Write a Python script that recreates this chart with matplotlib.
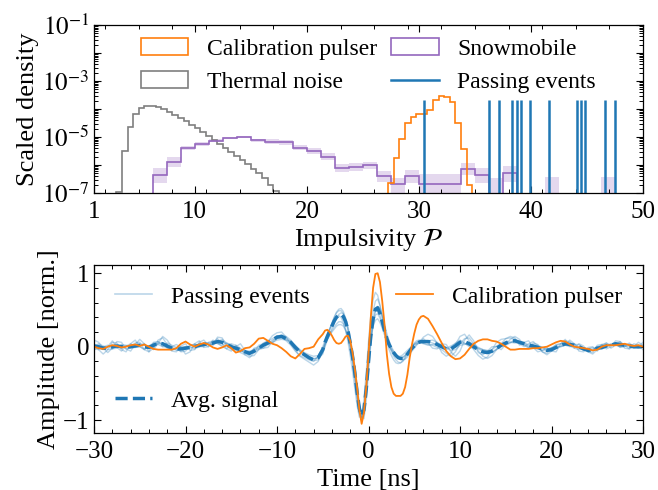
import numpy as np
import matplotlib
matplotlib.use("Agg")
import matplotlib.pyplot as plt
from matplotlib.patches import Patch
from matplotlib.lines import Line2D
from matplotlib.ticker import FixedLocator, MultipleLocator, LogLocator, NullFormatter

plt.rcParams['font.family'] = ['Liberation Serif', 'DejaVu Serif']
plt.rcParams['mathtext.fontset'] = 'stix'

# ---------------- top panel: impulsivity histograms (log10 of scaled density) ----------------
thermal_edges = np.arange(3.0, 17.51, 0.5)
thermal_log = [-6.97, -5.5, -4.63, -4.19, -3.98, -3.9, -3.88, -3.92, -4.0, -4.1,
               -4.21, -4.32, -4.44, -4.56, -4.69, -4.82, -4.96, -5.1, -5.24, -5.38,
               -5.53, -5.68, -5.83, -5.98, -6.14, -6.3, -6.47, -6.7, -6.93]

calib_edges = np.arange(27.25, 34.76, 0.5)
calib_log = [-6.65, -5.76, -5.07, -4.51, -4.27, -4.19, -4.18, -4.04, -3.68, -3.54,
             -3.56, -3.74, -4.51, -5.44, -6.71]

snow_edges = np.arange(6.25, 47.51, 1.25)
# -12 marks an empty bin
snow_log = [-6.36, -5.88, -5.38, -5.25, -5.13, -5.04, -5.01, -5.12, -5.17, -5.18,
            -5.38, -5.49, -5.7, -6.12, -6.06, -6.0, -6.38, -6.68, -6.38, -6.68,
            -6.68, -6.68, -6.14, -6.36, -12, -6.27, -12, -12, -12, -12,
            -12, -12, -12]
snow_lo_log = [-6.65, -6.06, -5.45, -5.31, -5.18, -5.08, -5.05, -5.16, -5.26, -5.27,
               -5.48, -5.6, -5.82, -6.26, -6.2, -6.13, -6.6, -7.0, -6.63, -7.0,
               -7.0, -7.0, -6.36, -6.65, -12, -6.6, -12, -12, -12, -12,
               -12, -12, -12]
snow_hi_log = [-6.1, -5.7, -5.31, -5.19, -5.08, -5.0, -4.97, -5.08, -5.08, -5.09,
               -5.28, -5.38, -5.58, -5.98, -5.93, -5.88, -6.2, -6.45, -6.17, -6.32,
               -6.32, -6.32, -5.93, -6.12, -6.45, -6.05, -12, -12, -6.43, -12,
               -12, -12, -6.43]

passing_impulsivity = [30.48, 36.26, 37.17, 38.28, 38.73, 39.11, 39.91, 41.64,
                       44.14, 44.44, 44.83, 46.61, 47.53]
passing_height = 2.1e-4

# ---------------- bottom panel: waveforms ----------------
t_ns = np.concatenate([np.arange(-30, -5, 0.5), np.arange(-5, 6, 0.25), np.arange(6, 30.01, 0.5)])

avg_signal = (
    [0.01, 0.0, -0.02, -0.02, 0.0, 0.01, 0.0, -0.01, 0.0, 0.01,
     0.02, 0.0, -0.01, 0.02, 0.05, 0.04, 0.01, -0.02, -0.03, -0.03,
     -0.02, -0.01, 0.0, 0.02, 0.03, 0.04, 0.05, 0.07, 0.06, 0.03,
     0.0, -0.02, -0.04, -0.07, -0.09, -0.06, -0.02, 0.02, 0.05, 0.09,
     0.13, 0.14, 0.11, 0.06, -0.01, -0.07, -0.11, -0.15, -0.18, -0.15]
    + [-0.04, 0.06, 0.14, 0.21, 0.28, 0.35, 0.4, 0.43, 0.44, 0.41,
       0.34, 0.22, 0.05, -0.13, -0.35, -0.62, -0.84, -0.94, -0.86, -0.58,
       -0.2, 0.15, 0.38, 0.51, 0.53, 0.45, 0.34, 0.22, 0.11, 0.03,
       -0.03, -0.08, -0.12, -0.15, -0.16, -0.16, -0.14, -0.1, -0.06, -0.02,
       0.01, 0.04, 0.06, 0.07]
    + [0.07, 0.07, 0.06, 0.03, 0.0, -0.03, -0.03, 0.01, 0.06, 0.07,
       0.04, 0.0, -0.04, -0.07, -0.08, -0.06, -0.02, 0.02, 0.05, 0.08,
       0.08, 0.06, 0.04, 0.02, 0.01, -0.01, -0.03, -0.05, -0.04, -0.01,
       0.02, 0.04, 0.03, 0.02, 0.0, -0.03, -0.05, -0.04, -0.02, -0.01,
       0.01, 0.02, 0.04, 0.03, 0.02, 0.01, 0.0, 0.0, 0.0]
)

calib_signal = (
    [0.0, -0.02, -0.03, 0.0, 0.02, 0.01, -0.01, 0.0, 0.02, 0.03,
     0.01, 0.03, 0.0, -0.03, -0.04, -0.04, -0.04, -0.04, -0.02, 0.04,
     0.07, 0.03, 0.0, 0.03, 0.05, 0.03, -0.01, -0.03, -0.01, 0.02,
     -0.02, -0.08, -0.06, -0.02, -0.01, 0.04, 0.11, 0.12, 0.08, 0.04,
     0.02, -0.02, -0.07, -0.13, -0.16, -0.1, -0.03, -0.02, 0.0, 0.1]
    + [0.17, 0.22, 0.23, 0.2, 0.15, 0.09, 0.05, 0.04, 0.05, 0.09,
       0.14, 0.15, 0.08, -0.08, -0.3, -0.55, -0.86, -1.05, -0.9, -0.55,
       -0.1, 0.4, 0.8, 0.99, 1.0, 0.88, 0.62, 0.3, -0.1, -0.37,
       -0.55, -0.64, -0.67, -0.67, -0.67, -0.64, -0.55, -0.38, -0.15, 0.03,
       0.18, 0.3, 0.37, 0.41]
    + [0.42, 0.38, 0.28, 0.17, 0.05, -0.06, -0.13, -0.17, -0.16, -0.11,
       -0.03, 0.04, 0.08, 0.1, 0.1, 0.08, 0.07, 0.04, 0.0, -0.04,
       -0.04, -0.03, -0.03, -0.03, -0.02, -0.02, -0.01, 0.0, 0.03, 0.06,
       0.08, 0.07, 0.03, 0.0, -0.01, -0.02, -0.03, -0.05, -0.04, 0.0,
       0.02, 0.02, 0.02, 0.03, 0.04, 0.02, 0.01, 0.02, 0.0]
)

passing_signals = [
    [0.09, 0.06, -0.02, -0.08, -0.02, 0.07, 0.06, -0.03, -0.06, 0.03,
     0.1, 0.04, -0.07, -0.02, 0.09, 0.12, 0.03, -0.06, -0.07, 0.01,
     0.04, -0.05, -0.04, 0.06, 0.09, 0.02, 0.03, 0.13, 0.12, 0.01,
     -0.04, 0.02, -0.02, -0.11, -0.15, -0.08, 0.02, 0.04, 0.07, 0.15,
     0.19, 0.2, 0.13, 0.04, -0.05, -0.13, -0.17, -0.21, -0.25, -0.2,
     -0.06, 0.05, 0.15, 0.24, 0.32, 0.4, 0.47, 0.51, 0.52, 0.48,
     0.38, 0.24, 0.05, -0.15, -0.38, -0.66, -0.9, -1.0, -0.9, -0.58,
     -0.16, 0.22, 0.48, 0.62, 0.65, 0.56, 0.42, 0.27, 0.13, 0.02,
     -0.06, -0.13, -0.18, -0.21, -0.22, -0.2, -0.16, -0.1, -0.04, 0.01,
     0.05, 0.08, 0.09, 0.09,
     0.13, 0.17, 0.14, 0.05, -0.08, -0.13, -0.09, 0.03, 0.14, 0.17,
     0.08, -0.04, -0.12, -0.17, -0.14, -0.04, 0.06, 0.1, 0.11, 0.12,
     0.1, 0.04, 0.0, 0.04, 0.07, 0.01, -0.07, -0.09, -0.02, 0.03,
     0.04, 0.08, 0.07, -0.02, -0.04, -0.02, -0.07, -0.1, -0.04, 0.03,
     0.05, -0.02, 0.02, 0.07, 0.02, -0.03, 0.0, 0.06, 0.02],
    [-0.03, -0.04, 0.0, 0.02, -0.03, -0.02, 0.03, 0.02, -0.02, -0.01,
     0.0, -0.03, 0.01, 0.05, 0.03, 0.0, -0.01, 0.0, -0.04, -0.06,
     -0.03, 0.02, 0.03, 0.0, 0.0, 0.06, 0.08, 0.04, 0.02, 0.05,
     0.03, -0.04, -0.07, -0.05, -0.06, -0.08, -0.04, 0.04, 0.07, 0.06,
     0.09, 0.1, 0.09, 0.07, 0.02, -0.04, -0.08, -0.11, -0.13, -0.12,
     -0.02, 0.05, 0.1, 0.15, 0.2, 0.24, 0.28, 0.3, 0.3, 0.28,
     0.22, 0.12, -0.02, -0.2, -0.42, -0.68, -0.88, -0.96, -0.85, -0.55,
     -0.2, 0.1, 0.28, 0.36, 0.38, 0.33, 0.25, 0.16, 0.08, 0.01,
     -0.05, -0.09, -0.12, -0.13, -0.13, -0.11, -0.08, -0.05, -0.02, 0.01,
     0.03, 0.04, 0.05, 0.05,
     0.04, 0.02, 0.03, 0.05, 0.03, -0.01, -0.05, -0.04, 0.02, 0.03,
     0.06, 0.04, -0.01, -0.04, -0.05, -0.07, -0.04, 0.0, 0.02, 0.05,
     0.1, 0.07, 0.03, -0.01, 0.0, 0.02, -0.01, -0.06, -0.06, -0.02,
     0.0, 0.02, 0.05, 0.04, -0.01, -0.04, -0.03, -0.01, -0.04, -0.03,
     0.0, 0.04, 0.03, 0.0, 0.04, 0.03, -0.02, -0.01, 0.02],
    [0.03, -0.04, -0.1, -0.04, 0.06, 0.05, -0.04, -0.07, 0.04, 0.09,
     0.0, -0.04, 0.01, -0.04, 0.04, 0.14, 0.09, 0.0, 0.03, -0.01,
     -0.1, -0.07, 0.04, 0.08, -0.01, 0.0, 0.09, 0.05, 0.0, -0.03,
     -0.06, 0.0, 0.04, -0.05, -0.13, -0.12, -0.04, -0.02, -0.01, 0.07,
     0.14, 0.16, 0.14, 0.09, 0.01, -0.06, -0.1, -0.14, -0.19, -0.18,
     -0.08, 0.0, 0.09, 0.17, 0.25, 0.32, 0.39, 0.44, 0.46, 0.45,
     0.39, 0.28, 0.12, -0.06, -0.26, -0.52, -0.78, -0.96, -0.98, -0.74,
     -0.34, 0.04, 0.3, 0.48, 0.55, 0.52, 0.42, 0.3, 0.18, 0.08,
     0.0, -0.06, -0.11, -0.15, -0.17, -0.18, -0.17, -0.14, -0.1, -0.06,
     -0.02, 0.02, 0.05, 0.07,
     0.11, 0.05, -0.02, -0.03, 0.04, 0.03, -0.07, -0.13, -0.06, 0.09,
     0.16, 0.08, -0.06, -0.13, -0.16, -0.12, -0.04, 0.04, 0.11, 0.14,
     0.12, 0.02, 0.06, 0.08, -0.01, -0.07, -0.05, -0.01, -0.06, -0.07,
     0.04, 0.1, 0.01, -0.02, 0.04, 0.01, -0.07, -0.08, 0.02, 0.03,
     -0.03, 0.0, 0.08, 0.07, -0.02, -0.03, 0.04, 0.02, -0.04],
    [0.0, 0.04, 0.01, -0.04, -0.03, 0.02, 0.01, 0.01, 0.04, 0.0,
     0.03, 0.04, -0.02, -0.01, 0.07, 0.03, -0.01, -0.05, -0.02, 0.0,
     0.0, 0.0, -0.03, 0.0, 0.05, 0.05, 0.02, 0.07, 0.1, 0.05,
     0.0, -0.05, -0.05, -0.08, -0.07, -0.03, -0.02, 0.05, 0.08, 0.11,
     0.15, 0.13, 0.08, 0.02, -0.06, -0.12, -0.15, -0.18, -0.2, -0.13,
     0.0, 0.09, 0.17, 0.24, 0.3, 0.36, 0.4, 0.42, 0.4, 0.33,
     0.22, 0.07, -0.12, -0.33, -0.56, -0.8, -0.96, -0.95, -0.72, -0.35,
     0.07, 0.42, 0.64, 0.74, 0.7, 0.57, 0.4, 0.23, 0.08, -0.04,
     -0.12, -0.18, -0.22, -0.23, -0.22, -0.19, -0.14, -0.09, -0.04, 0.0,
     0.04, 0.06, 0.07, 0.07,
     0.05, 0.08, 0.09, 0.06, 0.0, -0.04, -0.01, 0.05, 0.09, 0.05,
     0.0, -0.03, -0.02, -0.04, -0.06, -0.04, 0.01, 0.04, 0.03, 0.06,
     0.07, 0.07, 0.06, 0.02, -0.02, -0.03, -0.01, -0.03, -0.02, 0.02,
     0.04, 0.02, 0.0, 0.03, 0.03, -0.02, -0.07, -0.05, 0.0, 0.02,
     0.02, 0.03, 0.02, 0.0, 0.01, 0.03, 0.01, -0.02, 0.0],
    [-0.05, 0.02, -0.04, 0.0, 0.08, -0.01, -0.06, 0.01, 0.0, 0.05,
     0.06, -0.04, -0.07, 0.06, 0.07, 0.0, 0.05, 0.02, -0.01, -0.07,
     -0.06, 0.01, 0.04, 0.0, 0.03, 0.0, 0.05, 0.11, 0.04, -0.03,
     0.04, 0.02, -0.08, -0.11, -0.11, -0.02, 0.0, -0.02, 0.03, 0.05,
     0.11, 0.12, 0.1, 0.05, 0.0, -0.05, -0.09, -0.13, -0.16, -0.16,
     -0.1, 0.02, 0.13, 0.23, 0.32, 0.4, 0.46, 0.49, 0.49, 0.45,
     0.36, 0.23, 0.06, -0.12, -0.33, -0.58, -0.8, -0.92, -0.86, -0.6,
     -0.24, 0.1, 0.32, 0.43, 0.45, 0.39, 0.3, 0.2, 0.11, 0.04,
     -0.02, -0.07, -0.11, -0.14, -0.15, -0.14, -0.12, -0.09, -0.06, -0.03,
     0.0, 0.03, 0.05, 0.06,
     0.05, 0.03, 0.02, -0.01, -0.04, -0.09, -0.13, -0.07, 0.04, 0.11,
     0.12, 0.04, -0.08, -0.11, -0.06, 0.0, 0.0, -0.04, 0.03, 0.1,
     0.14, 0.1, 0.02, -0.02, 0.05, 0.03, -0.07, -0.11, -0.06, 0.01,
     0.0, 0.02, 0.09, 0.04, -0.06, -0.07, -0.01, 0.0, -0.06, 0.01,
     0.05, 0.02, 0.04, -0.01, 0.0, 0.05, 0.0, 0.0, 0.06],
    [0.03, 0.0, -0.01, 0.0, 0.02, -0.01, 0.02, -0.03, -0.01, 0.0,
     0.02, 0.02, 0.0, 0.03, 0.04, 0.05, -0.02, -0.02, -0.05, -0.03,
     0.0, -0.02, 0.0, 0.03, 0.02, 0.05, 0.06, 0.06, 0.07, 0.04,
     0.0, -0.03, -0.03, -0.06, -0.08, -0.05, -0.03, 0.02, 0.04, 0.09,
     0.12, 0.13, 0.12, 0.07, 0.0, -0.07, -0.12, -0.16, -0.17, -0.14,
     -0.05, 0.03, 0.1, 0.16, 0.22, 0.27, 0.31, 0.34, 0.34, 0.31,
     0.24, 0.13, -0.02, -0.2, -0.42, -0.69, -0.91, -0.99, -0.88, -0.56,
     -0.16, 0.18, 0.39, 0.49, 0.5, 0.43, 0.33, 0.21, 0.1, 0.02,
     -0.04, -0.09, -0.13, -0.15, -0.16, -0.15, -0.12, -0.08, -0.04, 0.0,
     0.03, 0.05, 0.07, 0.08,
     0.08, 0.07, 0.05, 0.02, 0.0, -0.02, 0.01, 0.04, 0.06, 0.04,
     0.02, -0.01, -0.03, -0.06, -0.09, -0.08, -0.03, 0.03, 0.07, 0.06,
     0.05, 0.06, 0.05, 0.0, -0.01, -0.02, -0.05, -0.04, -0.01, -0.02,
     0.01, 0.05, 0.02, 0.01, -0.01, -0.05, -0.04, -0.03, -0.01, -0.03,
     0.0, 0.03, 0.05, 0.03, 0.01, 0.0, -0.01, 0.02, 0.0],
]

fig = plt.figure(figsize=(6.58, 4.9), dpi=100)
ax1 = fig.add_axes([0.1429, 0.606, 0.8343, 0.343])
ax2 = fig.add_axes([0.1429, 0.1163, 0.8343, 0.343])

# top panel
ax1.set_yscale('log')
ax1.fill_between(snow_edges, 10.0 ** np.append(snow_lo_log, snow_lo_log[-1]),
                 10.0 ** np.append(snow_hi_log, snow_hi_log[-1]),
                 step='post', color='C4', alpha=0.25, lw=0)
ax1.stairs(10.0 ** np.array(thermal_log), thermal_edges, baseline=1e-12, color='C7', lw=1.2)
ax1.stairs(10.0 ** np.array(snow_log), snow_edges, baseline=1e-12, color='C4', lw=1.2)
ax1.stairs(10.0 ** np.array(calib_log), calib_edges, baseline=1e-12, color='C1', lw=1.2)
ax1.vlines(passing_impulsivity, 1e-12, passing_height, color='C0', lw=1.8)

ax1.set_xlim(1, 50)
ax1.set_ylim(1e-7, 1e-1)
ax1.set_xticks([1, 10, 20, 30, 40, 50])
ax1.xaxis.set_minor_locator(FixedLocator(np.arange(2, 50, 3)))
ax1.set_yticks(10.0 ** np.arange(-7, 0))
ax1.set_yticklabels(['$10^{-7}$', '', '$10^{-5}$', '', '$10^{-3}$', '', '$10^{-1}$'])
ax1.yaxis.set_minor_locator(LogLocator(base=10, subs=np.arange(2, 10), numticks=20))
ax1.yaxis.set_minor_formatter(NullFormatter())
ax1.set_xlabel(r'Impulsivity $\mathcal{P}$', fontsize=19, labelpad=2)
ax1.set_ylabel('Scaled density', fontsize=19, labelpad=2)

handles = [Patch(facecolor='none', edgecolor='C1', lw=1.2),
           Patch(facecolor='none', edgecolor='C7', lw=1.2),
           Patch(facecolor='none', edgecolor='C4', lw=1.2),
           Line2D([], [], color='C0', lw=1.8)]
labels = ['Calibration pulser', 'Thermal noise', 'Snowmobile', 'Passing events']
ax1.legend(handles, labels, ncol=2, loc='upper center', frameon=False,
           fontsize=17, columnspacing=0.6, handlelength=2.0, handletextpad=0.8,
           labelspacing=0.5, borderaxespad=0.15)

# bottom panel
for sig in passing_signals:
    ax2.plot(t_ns, sig, color='C0', alpha=0.3, lw=1.0)
ax2.plot(t_ns, avg_signal, color='C0', lw=2.5, dashes=(3.5, 1.5))
ax2.plot(t_ns, calib_signal, color='C1', lw=1.3)

ax2.set_xlim(-30, 30)
ax2.set_ylim(-1.175, 1.113)
ax2.set_xticks([-30, -20, -10, 0, 10, 20, 30])
ax2.xaxis.set_minor_locator(MultipleLocator(2))
ax2.set_yticks([-1, 0, 1])
ax2.yaxis.set_minor_locator(MultipleLocator(0.2))
ax2.set_xlabel('Time [ns]', fontsize=19, labelpad=4)
ax2.set_ylabel('Amplitude [norm.]', fontsize=19, labelpad=2)

leg_a = ax2.legend([Line2D([], [], color='C0', alpha=0.3, lw=1.2)], ['Passing events'],
                   loc='upper left', frameon=False, fontsize=17, handlelength=1.55)
ax2.add_artist(leg_a)
leg_b = ax2.legend([Line2D([], [], color='C1', lw=1.3)], ['Calibration pulser'],
                   loc='upper right', frameon=False, fontsize=17, handlelength=1.55)
ax2.add_artist(leg_b)
ax2.legend([Line2D([], [], color='C0', lw=2.5, dashes=(3.5, 1.5))], ['Avg. signal'],
           loc='lower left', frameon=False, fontsize=17, handlelength=1.55)

for ax in (ax1, ax2):
    ax.tick_params(which='both', direction='in', top=True, right=True, labelsize=18)
    ax.tick_params(axis='x', which='major', pad=6)
    ax.tick_params(which='major', length=5, width=0.8)
    ax.tick_params(which='minor', length=2.8, width=0.7)
    for s in ax.spines.values():
        s.set_linewidth(0.9)

fig.align_ylabels([ax1, ax2])
fig.savefig('out.png', dpi=100)
